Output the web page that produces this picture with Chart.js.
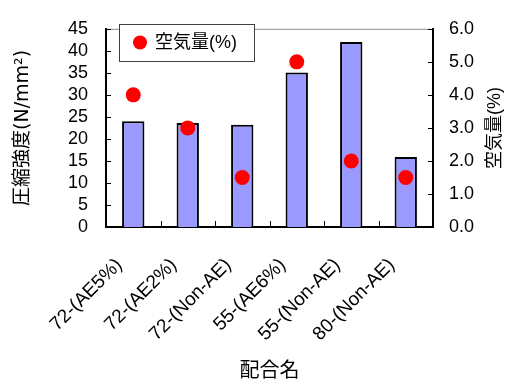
<!DOCTYPE html>
<html>
<head>
<meta charset="utf-8">
<script src="https://cdn.jsdelivr.net/npm/chart.js@4"></script>
<style>
html,body{margin:0;padding:0;background:#fff;}
#wrap{width:507px;height:387px;position:relative;}
</style>
</head>
<body>
<div id="wrap"><canvas id="c" width="507" height="387"></canvas></div>
<script>
const categories = ["72-(AE5%)", "72-(AE2%)", "72-(Non-AE)", "55-(AE6%)", "55-(Non-AE)", "80-(Non-AE)"];
const strength = [24.0, 23.6, 23.2, 35.1, 42.0, 15.9];
const airContent = [4.0, 3.0, 1.5, 5.0, 2.0, 1.5];
const leftTicks = [0, 5, 10, 15, 20, 25, 30, 35, 40, 45];
const rightTicks = [0, 1, 2, 3, 4, 5, 6];
const seriesLabel = "空気量(%)";
const leftTitle = "圧縮強度(N/mm²)";
const rightTitle = "空気量(%)";
const xTitle = "配合名";

const FONT = '"Liberation Sans", Arial, "Noto Sans CJK JP", sans-serif';
const TFONT = '"DejaVu Sans", "Noto Sans CJK JP", sans-serif';

const decor = {
  id: 'decor',
  afterDatasetsDraw(chart) {
    const ctx = chart.ctx;
    const a = chart.chartArea;
    const xs = chart.scales.x, ys = chart.scales.y, y1 = chart.scales.y1;
    ctx.save();
    ctx.strokeStyle = '#8c8c8c';
    ctx.lineWidth = 1;
    ctx.beginPath();
    ctx.moveTo(a.left, a.top + 0.5);
    ctx.lineTo(a.right, a.top + 0.5);
    ctx.stroke();
    ctx.strokeStyle = '#000';
    ctx.lineWidth = 1;
    ctx.beginPath();
    leftTicks.forEach(v => {
      const p = Math.round(ys.getPixelForValue(v)) + 0.5;
      ctx.moveTo(a.left, p); ctx.lineTo(a.left + 5, p);
    });
    rightTicks.forEach(v => {
      const p = Math.round(y1.getPixelForValue(v)) + 0.5;
      ctx.moveTo(a.right, p); ctx.lineTo(a.right - 5, p);
    });
    for (let i = 1; i < categories.length; i++) {
      const p = Math.round((xs.getPixelForValue(i - 1) + xs.getPixelForValue(i)) / 2) + 0.5;
      ctx.moveTo(p, a.bottom); ctx.lineTo(p, a.bottom - 6);
    }
    ctx.stroke();
    ctx.restore();
  },
  afterDraw(chart) {
    const ctx = chart.ctx;
    const a = chart.chartArea;
    ctx.save();
    ctx.fillStyle = '#fff';
    ctx.fillRect(119.5, 24.5, 135, 37);
    ctx.strokeStyle = '#404040';
    ctx.lineWidth = 1;
    ctx.strokeRect(119.5, 24.5, 135, 37);
    ctx.fillStyle = '#ff0000';
    ctx.beginPath();
    ctx.arc(140, 42.5, 7, 0, Math.PI * 2);
    ctx.fill();
    ctx.fillStyle = '#000';
    ctx.font = '18px ' + FONT;
    ctx.textBaseline = 'middle';
    ctx.textAlign = 'left';
    ctx.fillText(seriesLabel, 155, 43);
    ctx.translate(495, (a.top + a.bottom) / 2);
    ctx.rotate(-Math.PI / 2);
    ctx.textAlign = 'center';
    ctx.fillText(rightTitle, 0, 0);
    ctx.restore();
  }
};

new Chart(document.getElementById('c'), {
  data: {
    labels: categories,
    datasets: [
      {
        type: 'line',
        label: seriesLabel,
        data: airContent,
        yAxisID: 'y1',
        showLine: false,
        pointRadius: 7.5,
        pointHoverRadius: 7.5,
        pointBackgroundColor: '#ff0000',
        pointBorderWidth: 0,
        borderColor: '#ff0000',
        order: 1
      },
      {
        type: 'bar',
        label: '圧縮強度',
        data: strength,
        yAxisID: 'y',
        backgroundColor: '#9999ff',
        borderColor: '#000',
        borderWidth: 2,
        barPercentage: 0.41,
        categoryPercentage: 1.0,
        order: 2
      }
    ]
  },
  options: {
    responsive: false,
    animation: false,
    layout: { padding: { top: 16, left: 0, right: 0, bottom: 0 } },
    plugins: { legend: { display: false }, tooltip: { enabled: false } },
    scales: {
      x: {
        grid: { display: false, drawTicks: false },
        border: { display: true, color: '#000', width: 2 },
        ticks: {
          color: '#000', font: { family: FONT, size: 19 },
          maxRotation: 45, minRotation: 45, padding: 27, labelOffset: -14, autoSkip: false
        },
        title: { display: true, text: xTitle, color: '#000', font: { family: FONT, size: 20 }, padding: { top: 0, bottom: 4 } },
        afterFit(s) { s.height = 160; }
      },
      y: {
        position: 'left', min: 0, max: 45,
        grid: { display: false, drawTicks: false },
        border: { display: true, color: '#000', width: 2 },
        ticks: { stepSize: 5, autoSkip: false, color: '#000', font: { family: FONT, size: 18 }, padding: 18 },
        title: { display: true, text: leftTitle, color: '#000', font: { family: TFONT, size: 19 }, padding: { top: 12, bottom: 0 } },
        afterFit(s) { s.width = 106; }
      },
      y1: {
        position: 'right', min: 0, max: 6,
        grid: { display: false, drawTicks: false },
        border: { display: true, color: '#000', width: 2 },
        ticks: { stepSize: 1, autoSkip: false, color: '#000', font: { family: FONT, size: 18 }, padding: 16,
          callback: v => Number(v).toFixed(1) },
        afterFit(s) { s.width = 74; }
      }
    }
  },
  plugins: [decor]
});
</script>
</body>
</html>
